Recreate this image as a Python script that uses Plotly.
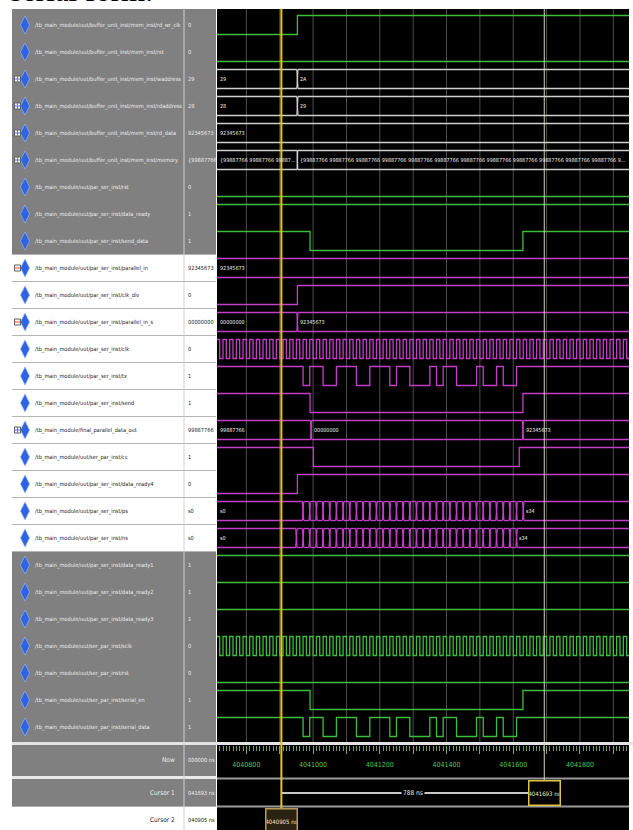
import plotly.graph_objects as go

# ---------------- data ----------------
T_START = 4040712          # left edge of the wave window (ns)
T_END = 4041947            # right edge of the wave window (ns)

signal_names = [
    "/tb_main_module/uut/buffer_unit_inst/mem_inst/rd_wr_clk",
    "/tb_main_module/uut/buffer_unit_inst/mem_inst/rst",
    "/tb_main_module/uut/buffer_unit_inst/mem_inst/waddress",
    "/tb_main_module/uut/buffer_unit_inst/mem_inst/rdaddress",
    "/tb_main_module/uut/buffer_unit_inst/mem_inst/rd_data",
    "/tb_main_module/uut/buffer_unit_inst/mem_inst/memory",
    "/tb_main_module/uut/par_ser_inst/rst",
    "/tb_main_module/uut/par_ser_inst/data_ready",
    "/tb_main_module/uut/par_ser_inst/send_data",
    "/tb_main_module/uut/par_ser_inst/parallel_in",
    "/tb_main_module/uut/par_ser_inst/clk_div",
    "/tb_main_module/uut/par_ser_inst/parallel_in_s",
    "/tb_main_module/uut/par_ser_inst/clk",
    "/tb_main_module/uut/par_ser_inst/tx",
    "/tb_main_module/uut/par_ser_inst/send",
    "/tb_main_module/final_parallel_data_out",
    "/tb_main_module/uut/ser_par_inst/cc",
    "/tb_main_module/uut/par_ser_inst/data_ready4",
    "/tb_main_module/uut/par_ser_inst/ps",
    "/tb_main_module/uut/par_ser_inst/ns",
    "/tb_main_module/uut/par_ser_inst/data_ready1",
    "/tb_main_module/uut/par_ser_inst/data_ready2",
    "/tb_main_module/uut/par_ser_inst/data_ready3",
    "/tb_main_module/uut/ser_par_inst/sclk",
    "/tb_main_module/uut/ser_par_inst/rst",
    "/tb_main_module/uut/ser_par_inst/serial_en",
    "/tb_main_module/uut/ser_par_inst/serial_data",
]
signal_values = ["0", "0", "29", "28", "92345673", "{99887766", "0", "1", "1",
                 "92345673", "0", "00000000", "0", "1", "1", "99887766", "1", "0",
                 "s0", "s0", "1", "1", "1", "0", "0", "1", "1"]
expandable_rows = [3, 4, 5, 6, 10, 12, 16]
expanded_rows = [10, 12]

# single-bit signals: (initial level, edge times in ns)
rd_wr_clk_init, rd_wr_clk_edges = 0, [4040953]
mem_rst_init, mem_rst_edges = 0, []
ps_rst_init, ps_rst_edges = 0, []
data_ready_init, data_ready_edges = 1, []
send_data_init, send_data_edges = 1, [4040991, 4041629]
clk_div_init, clk_div_edges = 0, [4040953]
tx_init = 1
tx_edges = [4040970, 4040990, 4041030, 4041070, 4041130, 4041170, 4041230, 4041250,
            4041290, 4041350, 4041370, 4041390, 4041430, 4041490, 4041510, 4041550,
            4041570, 4041610]
send_init, send_edges = 1, [4040991, 4041629]
cc_init, cc_edges = 1, [4041001, 4041618]
data_ready4_init, data_ready4_edges = 0, [4040953]
data_ready1_init, data_ready1_edges = 1, []
data_ready2_init, data_ready2_edges = 1, []
data_ready3_init, data_ready3_edges = 1, []
ser_rst_init, ser_rst_edges = 0, []
serial_en_init, serial_en_edges = 1, [4040991, 4041629]
serial_data_init = 1
serial_data_edges = [4040970, 4040990, 4041030, 4041070, 4041130, 4041170, 4041230, 4041250,
                     4041290, 4041350, 4041370, 4041390, 4041430, 4041490, 4041510, 4041550,
                     4041570, 4041610]

# clocks (period and first rising edge, ns)
clk_period, clk_first_rise = 20, 4040710
sclk_period, sclk_first_rise = 20, 4040710

# buses: transition times and values
waddress_times, waddress_labels = [4040953], ["29", "2A"]
rdaddress_times, rdaddress_labels = [4040953], ["28", "29"]
rd_data_times, rd_data_labels = [], ["92345673"]
memory_times = [4040953]
memory_labels = ["{99887766 99887766 99887...",
                 "{99887766 99887766 99887766 99887766 99887766 99887766 99887766 "
                 "99887766 99887766 99887766 99887766 99887766 9..."]
parallel_in_times, parallel_in_labels = [], ["92345673"]
parallel_in_s_times, parallel_in_s_labels = [4040953], ["00000000", "92345673"]
final_out_times, final_out_labels = [4040994, 4041629], ["99887766", "00000000", "92345673"]
ps_times = [4040970, 4040990, 4041010, 4041030, 4041050, 4041070, 4041090, 4041110,
            4041130, 4041150, 4041170, 4041190, 4041210, 4041230, 4041250, 4041270,
            4041290, 4041310, 4041330, 4041350, 4041370, 4041390, 4041410, 4041430,
            4041450, 4041470, 4041490, 4041510, 4041530, 4041550, 4041570, 4041590,
            4041610, 4041630]
ps_labels = ["s0", "s1", "s2", "s3", "s4", "s5", "s6", "s7", "s8", "s9", "s10", "s11",
             "s12", "s13", "s14", "s15", "s16", "s17", "s18", "s19", "s20", "s21", "s22",
             "s23", "s24", "s25", "s26", "s27", "s28", "s29", "s30", "s31", "s32", "s33", "s34"]
ns_times = [4040950, 4040970, 4040990, 4041010, 4041030, 4041050, 4041070, 4041090,
            4041110, 4041130, 4041150, 4041170, 4041190, 4041210, 4041230, 4041250,
            4041270, 4041290, 4041310, 4041330, 4041350, 4041370, 4041390, 4041410,
            4041430, 4041450, 4041470, 4041490, 4041510, 4041530, 4041550, 4041570,
            4041590, 4041610]
ns_labels = ["s0", "s1", "s2", "s3", "s4", "s5", "s6", "s7", "s8", "s9", "s10", "s11",
             "s12", "s13", "s14", "s15", "s16", "s17", "s18", "s19", "s20", "s21", "s22",
             "s23", "s24", "s25", "s26", "s27", "s28", "s29", "s30", "s31", "s32", "s33", "s34"]

# time ruler and cursors
grid_times = [4040800, 4040900, 4041000, 4041100, 4041200, 4041300, 4041400, 4041500,
              4041600, 4041700, 4041800, 4041900]
ruler_tick_times = [4040800, 4040900, 4041000, 4041100, 4041200, 4041300, 4041400,
                    4041500, 4041600, 4041700, 4041800, 4041900]
ruler_tick_labels = ["4040800", "", "4041000", "", "4041200", "", "4041400", "",
                     "4041600", "", "4041800", ""]
cursor1_time = 4041693
cursor2_time = 4040905
now_text, cursor1_text, cursor2_text = "000000 ns", "041693 ns", "040905 ns"
cursor1_box, cursor2_box, delta_text = "4041693 ns", "4040905 ns", "788 ns"

# ---------------- layout helpers ----------------
W, H = 633, 830
ROW_H = 27.0
def ry(py):                      # pixel y -> row units
    return 1 + (py - 25) / ROW_H
HALF = 9.5 / ROW_H
WAVE_X0, WAVE_X1 = 217, 629
NARROW = "DejaVu Sans Condensed, Liberation Sans Narrow, Arial Narrow, sans-serif"
GREEN, MAG, BUSW = "#3dbd3d", "#c43fc8", "#cfcfcf"
GRAY_PANEL = "#808080"
LIGHT_TXT, DARK_TXT = "#ececec", "#1c1c1c"

fig = go.Figure()
shapes, annos = [], []

def px(x):
    return x / W

def py(y):
    return 1 - y / H

def rect(x0, y0, x1, y1, color):
    shapes.append(dict(type="rect", xref="paper", yref="paper", x0=px(x0), x1=px(x1),
                       y0=py(y1), y1=py(y0), fillcolor=color, line_width=0, layer="below"))

def hline(x0, x1, y, color, width):
    shapes.append(dict(type="line", xref="paper", yref="paper", x0=px(x0), x1=px(x1),
                       y0=py(y), y1=py(y), line=dict(color=color, width=width), layer="below"))

rect(WAVE_X0, 9, WAVE_X1, H, "#000000")
rect(12, 9, 216, 254.5, GRAY_PANEL)
rect(12, 551.5, 216, 742, GRAY_PANEL)
rect(12, 745, 216, 776, GRAY_PANEL)
rect(12, 779, 216, 806, GRAY_PANEL)
for r in range(10, 21):
    yb = 25 + (r - 1) * ROW_H + ROW_H / 2
    hline(12, 216, yb, "#b4b4b4", 1)
hline(12, 216, 254.5, "#b4b4b4", 1)
hline(12, W, 743.5, "#e4e4e4", 3)
hline(12, 216, 777.5, "#e8e8e8", 3)
hline(WAVE_X0, WAVE_X1, 778.5, "#9a9a9a", 2)
hline(WAVE_X0, WAVE_X1, 806.5, "#9a9a9a", 2)
hline(12, 216, 806.5, "#b0b0b0", 1)
shapes.append(dict(type="line", xref="paper", yref="paper", x0=px(184), x1=px(184),
                   y0=py(H), y1=py(9), line=dict(color="#d0d0d0", width=1), layer="below"))

# grid lines in the wave window
for t in grid_times:
    shapes.append(dict(type="line", xref="x", yref="paper", x0=t, x1=t, y0=py(742), y1=py(9),
                       line=dict(color="#4c4c4c", width=1), layer="below"))

# ---------------- wave traces ----------------
def binary(row, init, edges, color):
    lvl = init
    xs, ys = [T_START], [row - HALF if lvl else row + HALF]
    for e in edges:
        lvl = 1 - lvl
        xs.append(e)
        ys.append(row - HALF if lvl else row + HALF)
    xs.append(T_END)
    ys.append(ys[-1])
    fig.add_trace(go.Scatter(x=xs, y=ys, mode="lines", xaxis="x", yaxis="y",
                             line=dict(color=color, width=1.3, shape="hv"),
                             hoverinfo="skip", showlegend=False))

def clock(row, first_rise, period, color):
    edges, t = [], first_rise
    while t < T_END:
        edges += [t, t + period / 2]
        t += period
    init = 0
    vis = []
    for i, e in enumerate(edges):
        if e <= T_START:
            init = 1 if i % 2 == 0 else 0
        else:
            vis.append(e)
    binary(row, init, vis, color)

def bus(row, times, labels, color, d=1.5):
    top, bot = row - HALF, row + HALF
    bounds = [T_START] + times + [T_END]
    xs, ys = [], []
    n = len(bounds) - 1
    for i in range(n):
        a = bounds[i] + (d if i > 0 else 0)
        b = bounds[i + 1] - (d if i + 1 < n else 0)
        xs += [a, b, None, a, b, None]
        ys += [top, top, None, bot, bot, None]
        if bounds[i + 1] - bounds[i] > 30:
            annos.append(dict(xref="x", yref="y", x=bounds[i] + 2.5, y=row, text=labels[i],
                              showarrow=False, xanchor="left", yanchor="middle",
                              font=dict(family=NARROW, size=5.4, color="#f0f0f0")))
    for t in times:
        xs += [t - d, t + d, None, t - d, t + d, None]
        ys += [top, bot, None, bot, top, None]
    fig.add_trace(go.Scatter(x=xs, y=ys, mode="lines", xaxis="x", yaxis="y",
                             line=dict(color=color, width=1.3), connectgaps=False,
                             hoverinfo="skip", showlegend=False))

binary(1, rd_wr_clk_init, rd_wr_clk_edges, GREEN)
binary(2, mem_rst_init, mem_rst_edges, GREEN)
bus(3, waddress_times, waddress_labels, BUSW)
bus(4, rdaddress_times, rdaddress_labels, BUSW)
bus(5, rd_data_times, rd_data_labels, BUSW)
bus(6, memory_times, memory_labels, BUSW, d=0.8)
binary(7, ps_rst_init, ps_rst_edges, GREEN)
binary(8, data_ready_init, data_ready_edges, GREEN)
binary(9, send_data_init, send_data_edges, GREEN)
bus(10, parallel_in_times, parallel_in_labels, MAG)
binary(11, clk_div_init, clk_div_edges, MAG)
bus(12, parallel_in_s_times, parallel_in_s_labels, MAG)
clock(13, clk_first_rise, clk_period, MAG)
binary(14, tx_init, tx_edges, MAG)
binary(15, send_init, send_edges, MAG)
bus(16, final_out_times, final_out_labels, MAG)
binary(17, cc_init, cc_edges, MAG)
binary(18, data_ready4_init, data_ready4_edges, MAG)
bus(19, ps_times, ps_labels, MAG, d=2.0)
bus(20, ns_times, ns_labels, MAG, d=2.0)
binary(21, data_ready1_init, data_ready1_edges, GREEN)
binary(22, data_ready2_init, data_ready2_edges, GREEN)
binary(23, data_ready3_init, data_ready3_edges, GREEN)
clock(24, sclk_first_rise, sclk_period, GREEN)
binary(25, ser_rst_init, ser_rst_edges, GREEN)
binary(26, serial_en_init, serial_en_edges, GREEN)
binary(27, serial_data_init, serial_data_edges, GREEN)

# cursors
shapes.append(dict(type="line", xref="x", yref="paper", x0=cursor1_time, x1=cursor1_time,
                   y0=py(780), y1=py(9), line=dict(color="#d6d6b8", width=1)))
shapes.append(dict(type="line", xref="x", yref="paper", x0=cursor2_time, x1=cursor2_time,
                   y0=py(808), y1=py(9), line=dict(color="#e8c21e", width=2)))
fig.add_trace(go.Scatter(x=[cursor2_time, cursor1_time], y=[ry(793), ry(793)], mode="lines",
                         xaxis="x", yaxis="y", line=dict(color="#c8c8c8", width=2),
                         hoverinfo="skip", showlegend=False))
annos.append(dict(xref="x", yref="y", x=(cursor1_time + cursor2_time) / 2, y=ry(793),
                  text=delta_text, showarrow=False, bgcolor="#000000", borderpad=1,
                  font=dict(family=NARROW, size=6.5, color="#e8e8e8")))
annos.append(dict(xref="x", yref="y", x=cursor1_time, y=ry(793), text=cursor1_box,
                  showarrow=False, bgcolor="#000000", bordercolor="#e2c43e", borderwidth=1.5,
                  borderpad=0, width=30, height=23,
                  font=dict(family=NARROW, size=6, color="#eeeacc")))
annos.append(dict(xref="x", yref="y", x=cursor2_time, y=ry(821), text=cursor2_box,
                  showarrow=False, bgcolor="#2a2212", bordercolor="#b89a58", borderwidth=1.5,
                  borderpad=0, width=30, height=24,
                  font=dict(family=NARROW, size=6, color="#eee6c8")))

# ---------------- left panel: icons and texts ----------------
rows = list(range(1, len(signal_names) + 1))
fig.add_trace(go.Scatter(x=[25] * len(rows), y=rows, mode="markers", xaxis="x2", yaxis="y",
                         marker=dict(symbol="diamond-tall", size=13, color="#2d64e4",
                                     line=dict(color="#9fb8f4", width=0.6)),
                         hoverinfo="skip", showlegend=False))
fig.add_trace(go.Scatter(x=[17.5] * len(expandable_rows), y=expandable_rows, mode="markers",
                         xaxis="x2", yaxis="y",
                         marker=dict(symbol="square", size=6, color="#f4f4f4",
                                     line=dict(color="#606060", width=1)),
                         hoverinfo="skip", showlegend=False))
plus_rows = [r for r in expandable_rows if r not in expanded_rows]
fig.add_trace(go.Scatter(x=[17.5] * len(plus_rows), y=plus_rows, mode="markers",
                         xaxis="x2", yaxis="y",
                         marker=dict(symbol="cross-thin-open", size=4,
                                     line=dict(color="#202020", width=1)),
                         hoverinfo="skip", showlegend=False))
fig.add_trace(go.Scatter(x=[17.5] * len(expanded_rows), y=expanded_rows, mode="markers",
                         xaxis="x2", yaxis="y",
                         marker=dict(symbol="line-ew-open", size=4,
                                     line=dict(color="#202020", width=1)),
                         hoverinfo="skip", showlegend=False))

for r, name, val in zip(rows, signal_names, signal_values):
    col = DARK_TXT if 10 <= r <= 20 else LIGHT_TXT
    annos.append(dict(xref="x2", yref="y", x=33, y=r, text=name, showarrow=False,
                      xanchor="left", yanchor="middle",
                      font=dict(family=NARROW, size=5.6, color=col)))
    annos.append(dict(xref="x2", yref="y", x=186, y=r, text=val, showarrow=False,
                      xanchor="left", yanchor="middle",
                      font=dict(family=NARROW, size=5.6, color=col)))

for label, val, ypix, col in [("Now", now_text, 760, LIGHT_TXT),
                              ("Cursor 1", cursor1_text, 793, LIGHT_TXT),
                              ("Cursor 2", cursor2_text, 820, DARK_TXT)]:
    annos.append(dict(xref="x2", yref="y", x=177, y=ry(ypix), text=label, showarrow=False,
                      xanchor="right", yanchor="middle",
                      font=dict(family=NARROW, size=6.5, color=col)))
    annos.append(dict(xref="x2", yref="y", x=186, y=ry(ypix), text=val, showarrow=False,
                      xanchor="left", yanchor="middle",
                      font=dict(family=NARROW, size=5.6, color=col)))

# page caption cut at the top
annos.append(dict(xref="paper", yref="paper", x=px(8), y=py(10), text="serial form.",
                  showarrow=False, xanchor="left", yanchor="bottom",
                  font=dict(family="Liberation Serif, Times New Roman, serif", size=31,
                            color="#000000")))

fig.update_layout(
    width=W, height=H, margin=dict(l=0, r=0, t=0, b=0),
    paper_bgcolor="#ffffff", plot_bgcolor="rgba(0,0,0,0)",
    showlegend=False, shapes=shapes, annotations=annos,
    xaxis=dict(domain=[px(WAVE_X0), px(WAVE_X1)], range=[T_START, T_END], anchor="free",
               position=py(745), showgrid=False, zeroline=False, showline=False,
               tickmode="array", tickvals=ruler_tick_times, ticktext=ruler_tick_labels,
               ticks="outside", ticklen=8, tickwidth=1, tickcolor="#7aa86a",
               ticklabelstandoff=5,
               tickfont=dict(family=NARROW, size=7, color="#52c452"),
               minor=dict(tickmode="linear", tick0=4040800, dtick=10, ticks="outside",
                          ticklen=5, tickwidth=1, tickcolor="#6f9a60", showgrid=False),
               fixedrange=True),
    xaxis2=dict(domain=[0, px(WAVE_X0)], range=[0, WAVE_X0], anchor="y", visible=False,
                fixedrange=True),
    yaxis=dict(domain=[0, 1], range=[ry(H), ry(0)], visible=False, fixedrange=True),
)

fig.write_html("out.html", config={"displayModeBar": False},
               post_script="document.body.style.margin='0';document.body.style.overflow='hidden';")
